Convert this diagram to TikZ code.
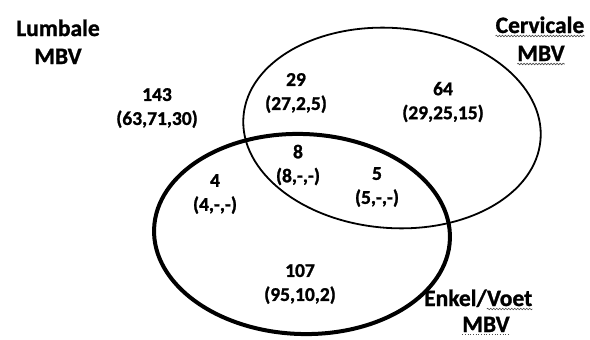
\documentclass[tikz,border=0pt]{standalone}
\usepackage{fontspec}
\setmainfont{Carlito}[BoldFeatures={FakeBold=1.2}]
\usetikzlibrary{decorations.pathmorphing}
\begin{document}
\begin{tikzpicture}[x=1pt,y=-1pt,
  num/.style={font=\bfseries\fontsize{19.5}{24}\selectfont,align=center,inner sep=0pt},
  ttl/.style={font=\bfseries\fontsize{23.5}{27}\selectfont,inner sep=0pt,anchor=base},
  squig/.style={decorate,decoration={snake,amplitude=0.8pt,segment length=3pt},line width=0.6pt,draw=black!70},
  thinell/.style={draw=black,line width=1.8pt},
  thickell/.style={draw=black,line width=4pt}]
\useasboundingbox (0,0) rectangle (590,340);
% ellipses
\draw[thinell] (392,128) ellipse [x radius=149pt, y radius=100pt, rotate=-4.4];
\draw[thickell] (302,234) ellipse [x radius=148pt, y radius=100pt, rotate=-2];
% titles
\node[ttl] (lumb) at (58,36) {Lumbale};
\node[ttl] (lumbm) at (58,64) {MBV};
\node[ttl] (cerv) at (540,33) {Cervicale};
\node[ttl] (cervm) at (541,61) {MBV};
\node[ttl,anchor=base west] (enk) at (424,306) {Enkel/};
\node[ttl,anchor=base west] (voet) at (enk.base east) {Voet};
\node[ttl] (enkm) at (486,332) {MBV};
\draw[squig] ([yshift=-3pt]cerv.base west) -- ([yshift=-3pt]cerv.base east);
\draw[squig] ([yshift=-3pt]cervm.base west) -- ([yshift=-3pt]cervm.base east);
\draw[squig] ([yshift=-3pt]voet.base west) -- ([yshift=-3pt]voet.base east);
\draw[black!70,line width=0.7pt,dotted] ([yshift=-2.5pt]enkm.base west) -- ([yshift=-2.5pt]enkm.base east);
% numbers
\node[num] (n143) at (157,108) {143\\(63,71,30)};
\node[num] (n29) at (296,93) {29\\(27,2,5)};
\node[num] (n64) at (443,102) {64\\(29,25,15)};
\node[num] (n8) at (298,165) {8\\(8,-,-)};
\node[num] (n4) at (215,194) {4\\(4,-,-)};
\node[num] (n5) at (377,187) {5\\(5,-,-)};
\node[num] (n107) at (300,284) {107\\(95,10,2)};
\end{tikzpicture}
\end{document}
